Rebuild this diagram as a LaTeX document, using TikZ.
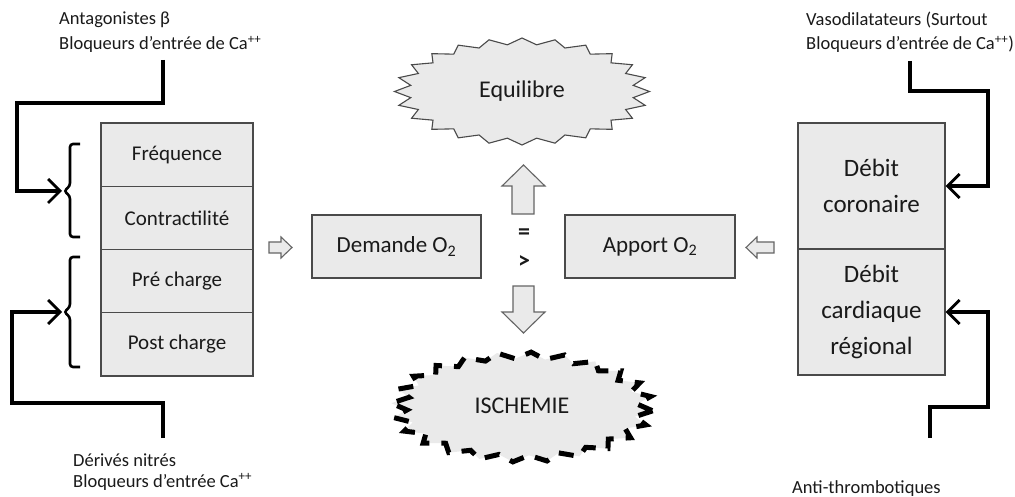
\documentclass[tikz,border=0pt]{standalone}
\usepackage{fontspec}
\setmainfont{Carlito}
\usetikzlibrary{arrows.meta}
\definecolor{boxfill}{HTML}{EAEAEA}
\definecolor{boxline}{HTML}{4A4A4A}
\definecolor{txt}{HTML}{1A1A1A}
\begin{document}
\begin{tikzpicture}[x=1pt,y=-1pt,
  cell/.style={draw=boxline,line width=1.1pt,fill=boxfill,inner sep=0pt,text=txt,align=center},
  lcell/.style={cell,minimum width=152pt,minimum height=63.25pt,font=\fontsize{21}{25}\selectfont},
  rcell/.style={cell,minimum width=147pt,minimum height=126pt,font=\fontsize{25}{36}\selectfont},
  mbox/.style={cell,minimum width=169pt,minimum height=63pt,font=\fontsize{23}{27}\selectfont},
  lab/.style={anchor=base west,inner sep=0pt,text=txt,font=\fontsize{18.5}{24}\selectfont},
  conn/.style={draw=black,line width=3.2pt,-{Straight Barb[length=12pt,width=24pt,line width=2.8pt]}},
  brace/.style={draw=black,line width=2.6pt,rounded corners=3pt},
  blk/.style={draw=boxline!85,line width=1.1pt,fill=boxfill,line join=miter},
  burst/.style={draw=boxline,line width=1.1pt,fill=boxfill},
  dburst/.style={draw=black,line width=5pt,fill=boxfill,dash pattern=on 15pt off 12pt},
  big/.style={text=txt,font=\fontsize{24}{28}\selectfont},
  sym/.style={text=txt,font=\fontsize{24}{28}\selectfont\bfseries}]
\useasboundingbox (0,0) rectangle (1015,497);
\fill[white] (0,0) rectangle (1015,497);

% left stack
\node[lcell] (freq) at (177,154.6) {Fréquence};
\node[lcell] (contr) at (177,217.9) {Contractilité};
\node[lcell] (pre) at (177,281.1) {Pré charge};
\node[lcell] (post) at (177,344.4) {Post charge};

% right stack
\node[rcell] (coro) at (871.5,186) {Débit\\coronaire};
\node[rcell] (reg) at (871.5,312) {Débit\\cardiaque\\régional};

% middle boxes
\node[mbox] (dem) at (396.5,246.5) {Demande O\textsubscript{2}};
\node[mbox,minimum width=170pt] (app) at (650,246.5) {Apport O\textsubscript{2}};

% starbursts
\path[burst] plot[samples at={0,...,47}] ({522+127.5*(0.94+0.06*cos(\x*180))*cos(\x*7.5)},{91.5+53.5*(0.94+0.06*cos(\x*180))*sin(\x*7.5)}) -- cycle;
\node[big] (eq) at (522,91) {Equilibre};
\path[dburst] plot[samples at={0,...,47}] ({522+131*(0.94+0.06*cos(\x*180))*cos(\x*7.5+4)},{407+55*(0.94+0.06*cos(\x*180))*sin(\x*7.5+4)}) -- cycle;
\node[big] (isch) at (522,406) {ISCHEMIE};

% = and >
\node[sym] (eqs) at (524,234) {=};
\node[sym] (gt) at (524,262) {>};

% block arrows
\path[blk] (512,214) -- (512,186) -- (502,186) -- (523.5,165) -- (545,186) -- (534,186) -- (534,214) -- cycle;
\path[blk] (513,286) -- (513,312) -- (502,312) -- (523.5,333) -- (545,312) -- (534,312) -- (534,286) -- cycle;
\path[blk] (269,242) -- (281,242) -- (281,237) -- (292,247.5) -- (281,258) -- (281,253) -- (269,253) -- cycle;
\path[blk] (774,242) -- (757,242) -- (757,237) -- (746,247.5) -- (757,258) -- (757,253) -- (774,253) -- cycle;

% braces
\path[brace] (80,144) -- (70,144) -- (70,186) -- (64,191) -- (70,196) -- (70,237) -- (80,237);
\path[brace] (80,257) -- (70,257) -- (70,307) -- (64,312) -- (70,317) -- (70,367) -- (80,367);
\coordinate (b1) at (62,191);
\coordinate (b2) at (62,312);

% labels
\node[lab] (l1a) at (59,25) {Antagonistes β};
\node[lab] (l1b) at (59,50) {Bloqueurs d’entrée de Ca\textsuperscript{++}};
\node[lab] (l2a) at (73,466) {Dérivés nitrés};
\node[lab] (l2b) at (73,487) {Bloqueurs d’entrée Ca\textsuperscript{++}};
\node[lab] (r1a) at (806,26) {Vasodilatateurs (Surtout};
\node[lab] (r1b) at (806,50) {Bloqueurs d’entrée de Ca\textsuperscript{++})};
\node[lab] (r2) at (792,493) {Anti-thrombotiques};

% connectors
\coordinate (s1) at (163,60);
\coordinate (s2) at (163,438);
\coordinate (s3) at (910,61);
\coordinate (s4) at (930,438);
\draw[conn] (s1) |- (17,103) |- (b1);
\draw[conn] (s2) |- (12,403) |- (b2);
\draw[conn] (s3) |- (988,91) |- (coro.east);
\draw[conn] (s4) |- (988,407) |- (reg.east);
\end{tikzpicture}
\end{document}
